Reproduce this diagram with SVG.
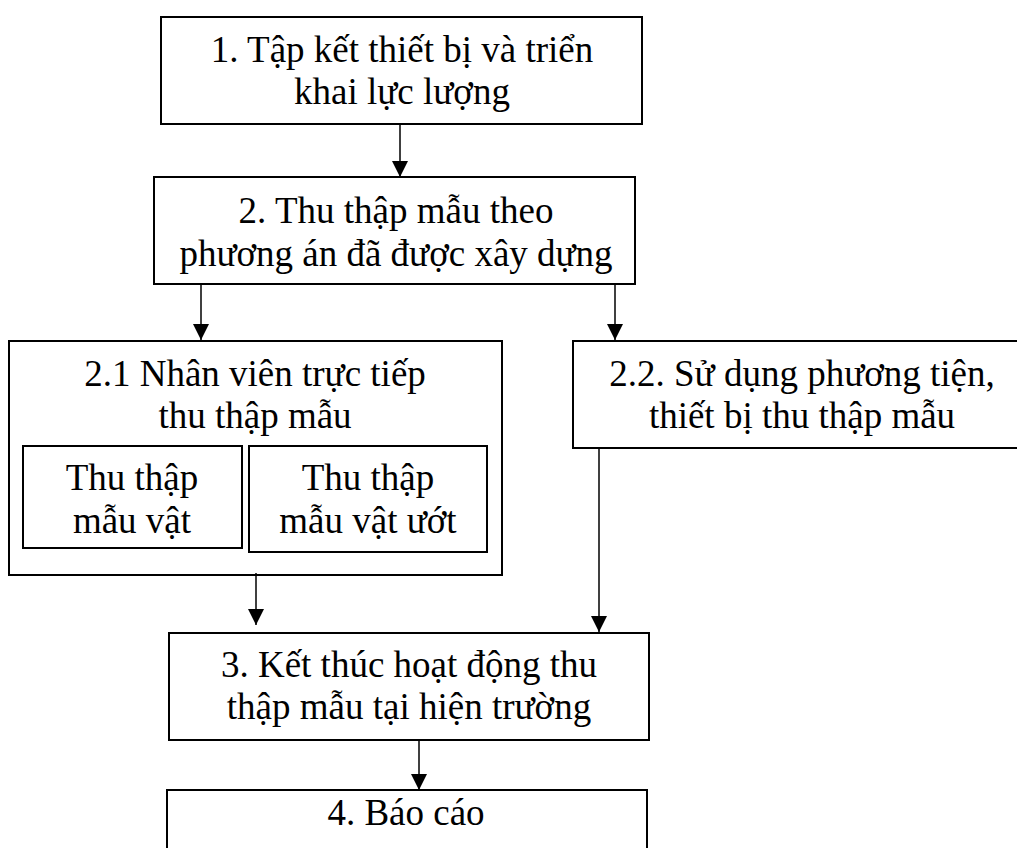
<svg xmlns="http://www.w3.org/2000/svg" width="1017" height="848" viewBox="0 0 1017 848">
<style>
.box{fill:#fff;stroke:#000;stroke-width:2}
.t{font-family:"Liberation Serif","Times New Roman",serif;font-size:37px;fill:#000;text-anchor:middle}
.c{stroke:#000;stroke-width:1.5;fill:none;marker-end:url(#ah)}
</style>
<defs>
<marker id="ah" viewBox="0 0 16 16" refX="16" refY="8" markerWidth="16" markerHeight="16" markerUnits="userSpaceOnUse" orient="auto">
<path d="M0,0 L16,8 L0,16 Z" fill="#000"/>
</marker>
</defs>
<rect width="1017" height="848" fill="#fff"/>
<g id="n1">
<rect class="box" x="161" y="17" width="481" height="107"/>
<text class="t" x="402" y="62">1. Tập kết thiết bị và triển</text>
<text class="t" x="402" y="104">khai lực lượng</text>
</g>
<g id="n2">
<rect class="box" x="154" y="177" width="481" height="107"/>
<text class="t" x="396" y="223">2. Thu thập mẫu theo</text>
<text class="t" x="396" y="266">phương án đã được xây dựng</text>
</g>
<g id="n21">
<rect class="box" x="9" y="341" width="493" height="234"/>
<text class="t" x="255" y="386">2.1 Nhân viên trực tiếp</text>
<text class="t" x="255" y="428">thu thập mẫu</text>
</g>
<g id="n21a">
<rect class="box" x="23" y="446" width="219" height="102"/>
<text class="t" x="132" y="490">Thu thập</text>
<text class="t" x="132" y="533">mẫu vật</text>
</g>
<g id="n21b">
<rect class="box" x="249" y="446" width="238" height="106"/>
<text class="t" x="368" y="490">Thu thập</text>
<text class="t" x="368" y="533">mẫu vật ướt</text>
</g>
<g id="n22">
<rect class="box" x="573" y="341" width="460" height="107"/>
<text class="t" x="802" y="386">2.2. Sử dụng phương tiện,</text>
<text class="t" x="802" y="428">thiết bị thu thập mẫu</text>
</g>
<g id="n3">
<rect class="box" x="169" y="633" width="480" height="107"/>
<text class="t" x="409" y="677">3. Kết thúc hoạt động thu</text>
<text class="t" x="409" y="719">thập mẫu tại hiện trường</text>
</g>
<g id="n4">
<rect class="box" x="167" y="790" width="480" height="80"/>
<text class="t" x="406" y="825">4. Báo cáo</text>
</g>
<g id="connectors">
<line class="c" x1="400" y1="124" x2="400" y2="177"/>
<line class="c" x1="201" y1="284" x2="201" y2="340"/>
<line class="c" x1="615" y1="284" x2="615" y2="340"/>
<line class="c" x1="256" y1="573" x2="256" y2="625"/>
<line class="c" x1="599" y1="448" x2="599" y2="632"/>
<line class="c" x1="419" y1="740" x2="419" y2="790"/>
</g>
</svg>
